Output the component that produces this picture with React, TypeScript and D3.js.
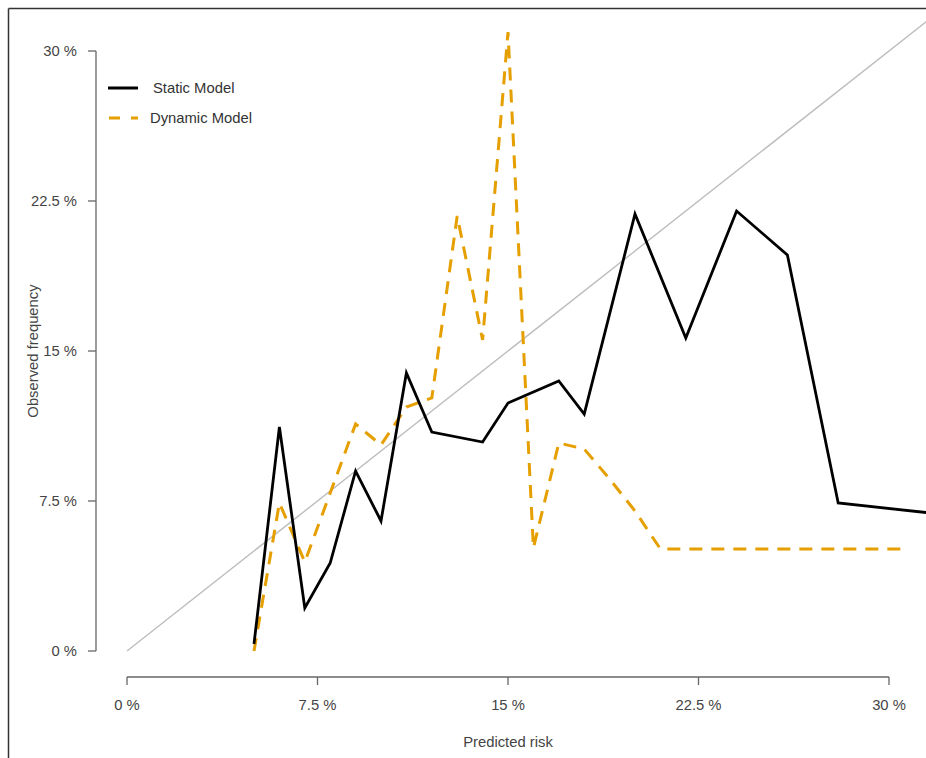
import React from "react";
import * as d3 from "d3";

const staticRisk = [5, 6, 7, 8, 9, 10, 11, 12, 14, 15, 17, 18, 20, 22, 24, 26, 28, 32];
const staticObs = [0.35, 11.2, 2.15, 4.4, 9.0, 6.5, 13.9, 10.95, 10.45, 12.4, 13.5, 11.85, 21.85, 15.65, 22.0, 19.8, 7.4, 6.85];

const dynamicRisk = [5, 6, 7, 9, 10, 11, 12, 13, 14, 15, 16, 17, 18, 19, 20, 21, 30.7];
const dynamicObs = [0, 7.4, 4.45, 11.35, 10.3, 12.2, 12.65, 21.75, 15.55, 30.95, 5.15, 10.4, 10.1, 8.6, 7.0, 5.1, 5.1];

const tickValues = [0, 7.5, 15, 22.5, 30];
const tickLabels = ["0 %", "7.5 %", "15 %", "22.5 %", "30 %"];
const seriesNames = ["Static Model", "Dynamic Model"];
const seriesColors = ["#000000", "#E69F00"];

export default function App() {
  const W = 926;
  const H = 758;
  const x = d3.scaleLinear().domain([0, 30]).range([127, 889]);
  const y = d3.scaleLinear().domain([0, 30]).range([651, 51]);
  const font = "'Liberation Sans', Arial, sans-serif";
  const fs = 14.8;

  const line = d3
    .line<[number, number]>()
    .x((d) => x(d[0]))
    .y((d) => y(d[1]));

  const sData = staticRisk.map((r, i) => [r, staticObs[i]] as [number, number]);
  const dData = dynamicRisk.map((r, i) => [r, dynamicObs[i]] as [number, number]);
  const diag: [number, number][] = [
    [0, 0],
    [33, 33],
  ];

  const axisColor = "#666";
  const textColor = "#444";
  const xAxisY = 677;
  const yAxisX = 96;

  return (
    <svg
      width={W}
      height={H}
      style={{ position: "absolute", left: 0, top: 0, background: "#fff" }}
      fontFamily={font}
    >
      <defs>
        <clipPath id="clip">
          <rect x={0} y={10} width={W} height={H} />
        </clipPath>
      </defs>
      {/* frame */}
      <line x1={8.5} y1={8.5} x2={W} y2={8.5} stroke="#333" strokeWidth={1.5} />
      <line x1={8.5} y1={8.5} x2={8.5} y2={H} stroke="#333" strokeWidth={1.5} />

      {/* y axis */}
      <line x1={yAxisX} y1={y(0)} x2={yAxisX} y2={y(30)} stroke={axisColor} strokeWidth={1.3} />
      {tickValues.map((t, i) => (
        <g key={"yt" + i}>
          <line x1={yAxisX - 8} y1={y(t)} x2={yAxisX} y2={y(t)} stroke={axisColor} strokeWidth={1.3} />
          <text x={77} y={y(t)} dy="0.35em" textAnchor="end" fontSize={fs} fill={textColor}>
            {tickLabels[i]}
          </text>
        </g>
      ))}
      <text
        transform={`translate(38,${y(15)}) rotate(-90)`}
        textAnchor="middle"
        fontSize={fs}
        fill={textColor}
      >
        Observed frequency
      </text>

      {/* x axis */}
      <line x1={x(0)} y1={xAxisY} x2={x(30)} y2={xAxisY} stroke={axisColor} strokeWidth={1.3} />
      {tickValues.map((t, i) => (
        <g key={"xt" + i}>
          <line x1={x(t)} y1={xAxisY} x2={x(t)} y2={xAxisY + 8} stroke={axisColor} strokeWidth={1.3} />
          <text x={x(t)} y={705} dy="0.35em" textAnchor="middle" fontSize={fs} fill={textColor}>
            {tickLabels[i]}
          </text>
        </g>
      ))}
      <text x={x(15)} y={742} dy="0.35em" textAnchor="middle" fontSize={fs} fill={textColor}>
        Predicted risk
      </text>

      <g clipPath="url(#clip)">
        <path d={line(diag) || ""} fill="none" stroke="#bdbdbd" strokeWidth={1.4} />
        <path
          d={line(dData) || ""}
          fill="none"
          stroke={seriesColors[1]}
          strokeWidth={3}
          strokeDasharray="13,9"
        />
        <path d={line(sData) || ""} fill="none" stroke={seriesColors[0]} strokeWidth={2.8} strokeLinejoin="miter" />
      </g>

      {/* legend */}
      <line x1={108} y1={88} x2={138} y2={88} stroke={seriesColors[0]} strokeWidth={3} />
      <text x={153} y={88} dy="0.35em" fontSize={fs} fill="#333">
        {seriesNames[0]}
      </text>
      <line x1={109} y1={118} x2={138} y2={118} stroke={seriesColors[1]} strokeWidth={3} strokeDasharray="11,11" />
      <text x={150} y={118} dy="0.35em" fontSize={fs} fill="#333">
        {seriesNames[1]}
      </text>
    </svg>
  );
}
